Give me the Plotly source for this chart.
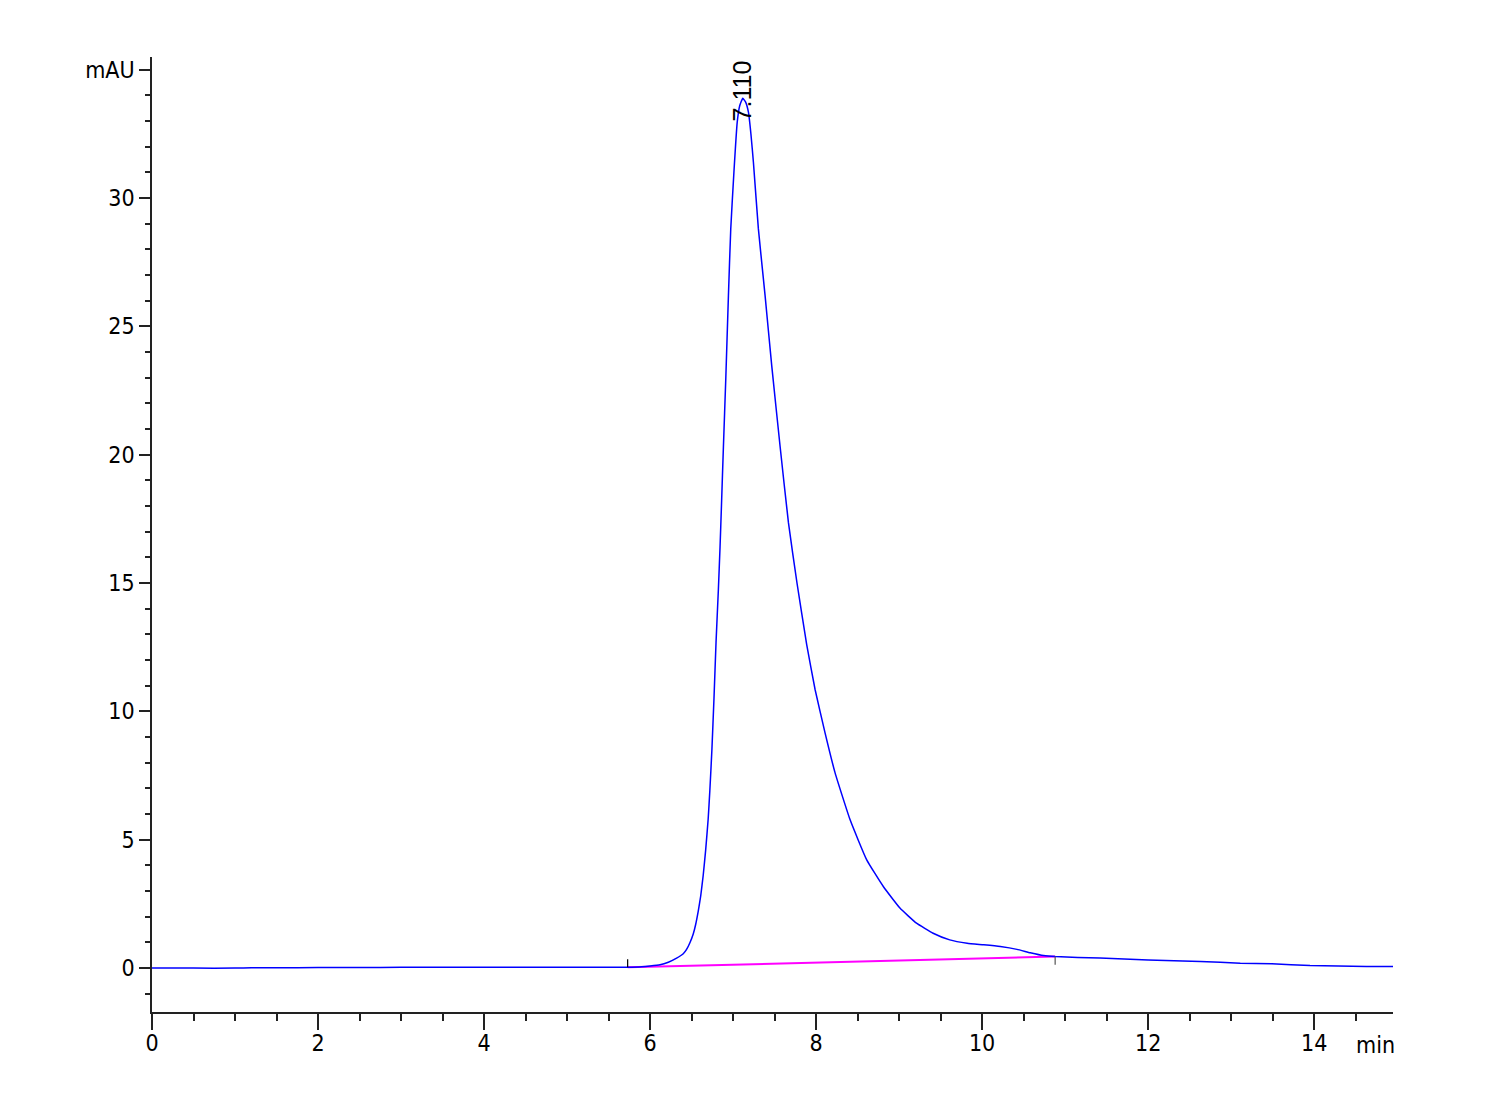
import plotly.graph_objects as go

# Chromatogram signal (min, mAU)
time_min = [0.0, 0.5, 1.0, 1.2, 1.5, 2.0, 2.5, 3.0, 3.5, 4.0, 4.5, 5.0, 5.5, 5.73,
            5.9, 6.0, 6.12, 6.22, 6.32, 6.40, 6.44, 6.48, 6.52, 6.55, 6.58, 6.61,
            6.64, 6.67, 6.70, 6.72, 6.745, 6.77, 6.795, 6.823, 6.843, 6.86, 6.884,
            6.912, 6.944, 6.972, 7.01, 7.05, 7.08, 7.117, 7.15, 7.185, 7.215, 7.245,
            7.305, 7.386, 7.466, 7.566, 7.667, 7.77, 7.887, 7.988,
            8.108, 8.229, 8.41, 8.61, 8.81, 9.01, 9.21, 9.41, 9.61, 9.82, 10.02,
            10.22, 10.42, 10.58, 10.74, 10.88, 11.42, 12.0, 12.63, 13.11, 13.49,
            13.95, 14.63, 14.95]
signal_mau = [-0.01, -0.01, -0.01, 0.0, 0.0, 0.01, 0.01, 0.02, 0.02, 0.02, 0.02, 0.02, 0.02, 0.02,
              0.04, 0.07, 0.12, 0.22, 0.38, 0.55, 0.72, 0.98, 1.32, 1.70, 2.20, 2.80,
              3.60, 4.60, 5.80, 6.90, 8.50, 10.5, 12.7, 14.75, 16.4, 18.0, 20.34,
              22.94, 26.19, 28.8, 31.0, 32.96, 33.6, 33.89, 33.75, 33.35, 32.5, 31.4,
              28.8, 26.19, 23.46, 20.34, 17.35, 15.0, 12.6, 10.85,
              9.16, 7.6, 5.77, 4.21, 3.17, 2.33, 1.74, 1.35, 1.09, 0.96, 0.90,
              0.83, 0.72, 0.59, 0.48, 0.44, 0.38, 0.31, 0.25, 0.18, 0.16,
              0.09, 0.05, 0.05]

# Integration baseline
baseline_t = [5.73, 10.88]
baseline_y = [0.02, 0.44]

peak_rt = 7.110
peak_label = "7.110"
peak_top = 32.9

y_tickvals = [0, 5, 10, 15, 20, 25, 30, 35]
y_ticktext = ["0", "5", "10", "15", "20", "25", "30", "mAU"]
x_tickvals = [0, 2, 4, 6, 8, 10, 12, 14]

tick_font = dict(family="DejaVu Sans Condensed, Liberation Sans Narrow, Liberation Sans, Arial", size=23, color="#000")

fig = go.Figure()
fig.add_trace(go.Scatter(x=baseline_t, y=baseline_y, mode="lines",
                         line=dict(color="#ff00ff", width=2), hoverinfo="skip"))
fig.add_trace(go.Scatter(x=time_min, y=signal_mau, mode="lines",
                         line=dict(color="#0000ff", width=1.5, shape="spline", smoothing=0.4)))

# peak start/end markers
fig.add_shape(type="line", x0=baseline_t[0], x1=baseline_t[0], y0=baseline_y[0], y1=baseline_y[0] + 0.32,
              line=dict(color="#000", width=1.2))
fig.add_shape(type="line", x0=baseline_t[1], x1=baseline_t[1], y0=baseline_y[1], y1=baseline_y[1] - 0.32,
              line=dict(color="#555", width=1.2))

fig.add_annotation(x=peak_rt, y=peak_top, text=peak_label, textangle=-90, showarrow=False,
                   xanchor="center", yanchor="bottom",
                   font=dict(family="Liberation Sans, Arial", size=25, color="#000"))
fig.add_annotation(x=1.0, xref="paper", y=0, yref="paper", text="min", showarrow=False,
                   xanchor="right", yanchor="top", yshift=-18, xshift=4,
                   font=tick_font)

fig.update_layout(
    width=1500, height=1100,
    margin=dict(l=144, r=115, t=49, b=96),
    paper_bgcolor="white", plot_bgcolor="white",
    showlegend=False,
)
fig.update_xaxes(range=[0, 14.95], tickvals=x_tickvals, ticks="outside", ticklen=16,
                 tickwidth=1.5, tickcolor="#222", showline=True, linecolor="#222", linewidth=1.5,
                 showgrid=False, zeroline=False, tickfont=tick_font, ticklabelstandoff=-6,
                 minor=dict(dtick=0.5, tick0=0, ticks="outside", ticklen=7, tickwidth=1.5, tickcolor="#222", showgrid=False))
fig.update_yaxes(range=[-1.72, 35.5], tickvals=y_tickvals, ticktext=y_ticktext, ticks="outside", ticklen=11,
                 tickwidth=1.5, tickcolor="#222", showline=True, linecolor="#222", linewidth=1.5,
                 showgrid=False, zeroline=False, tickfont=tick_font,
                 minor=dict(dtick=1, tick0=0, ticks="outside", ticklen=5, tickwidth=1.5, tickcolor="#222", showgrid=False))

fig.write_html("out.html")
